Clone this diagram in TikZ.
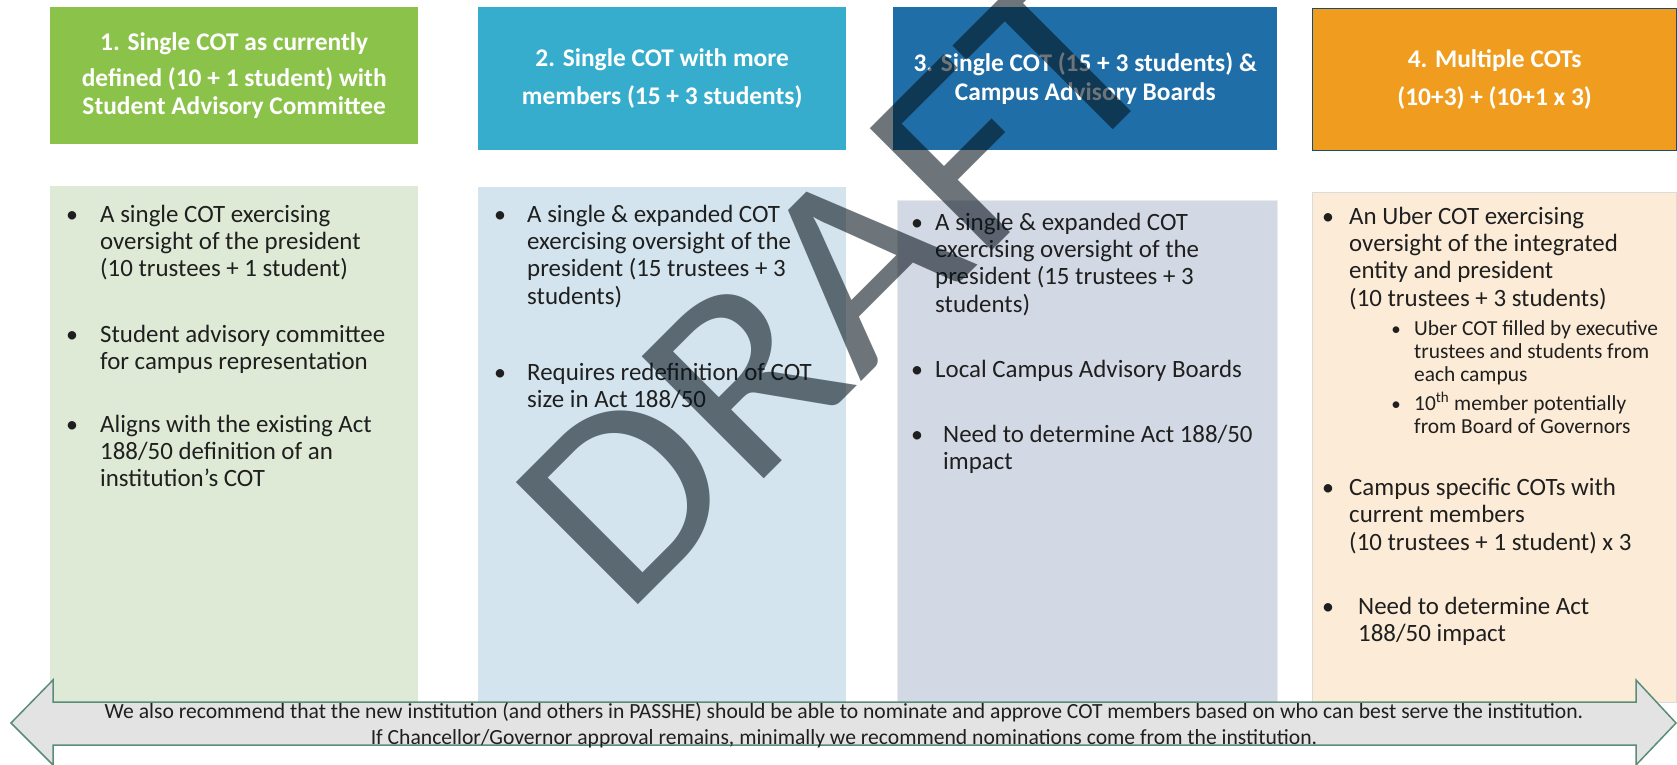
\documentclass[tikz,border=0pt]{standalone}
\usepackage{fontspec}
\setmainfont{Carlito}
\newfontfamily\wmkfont[FakeStretch=1.074]{Carlito}
\usetikzlibrary{positioning,calc}
\definecolor{cOne}  {HTML}{8BC34A}
\definecolor{cTwo}  {HTML}{37ADCE}
\definecolor{cThree}{HTML}{1F6EA8}
\definecolor{cFour} {HTML}{F09D1F}
\definecolor{pOne}  {HTML}{DEEAD5}
\definecolor{pTwo}  {HTML}{D3E4EE}
\definecolor{pThree}{HTML}{D3D9E4}
\definecolor{pFour} {HTML}{FCEBD6}
\definecolor{cTxt}  {HTML}{1F1F1F}
\definecolor{cArw}  {HTML}{5A8C78}
\definecolor{cArwF} {HTML}{E3E3E3}
\definecolor{cWmk}  {HTML}{05111A}
% first line of a block sits on the node's base
\newcommand\lnsL[1]{\begin{tabular}[t]{@{}l@{}}#1\end{tabular}}
\newcommand\lnsC[1]{\begin{tabular}[t]{@{}c@{}}#1\end{tabular}}
\tikzset{
  hdr/.style ={anchor=north west,align=center,text=white,inner sep=0pt,
               minimum height=143bp,
               font=\fontsize{25.5}{28}\selectfont\bfseries},
  pnl/.style ={anchor=north west,inner sep=0pt,minimum height=516bp},
  itm/.style ={anchor=base west,inner sep=0pt,text=cTxt,
               font=\fontsize{25}{27.6}\selectfont},
  sub/.style ={itm,font=\fontsize{21.5}{23.5}\selectfont},
  dot/.style ={anchor=base,inner sep=0pt,text=cTxt,
               font=\fontsize{24}{27.6}\selectfont},
  sdot/.style={dot,font=\fontsize{19}{20}\selectfont},
}

\begin{document}
\begin{tikzpicture}[x=1bp,y=1bp,
  arw/.style={draw=cArw,fill=cArwF,line width=1.5bp,line join=miter},
  msg/.style={anchor=base,inner sep=0pt,text=cTxt,
              font=\fontsize{21.7}{27}\selectfont},
  wmk/.style={text=cWmk,opacity=0.58,inner sep=0pt,
              font=\wmkfont\fontsize{270}{270}\selectfont},
]
\useasboundingbox (0,0) rectangle (1677,-765);

% ===== option panels (behind the arrow) =================================
\node[pnl,fill=pOne,  minimum width=368bp] (b1) at (50,-186)  {};
\node[pnl,fill=pTwo,  minimum width=368bp,minimum height=515bp]
  (b2) at (478,-187) {};
\node[pnl,fill=pThree,minimum width=380bp,minimum height=502bp,
      draw=black!8] (b3) at (897,-200) {};
\node[pnl,fill=pFour, minimum width=364bp,minimum height=510bp,
      draw=black!14] (b4) at (1312,-192) {};

% ===== option headers ===================================================
\node[hdr,fill=cOne,minimum width=368bp,minimum height=137bp] (h1) at (50,-7)
  {1. Single COT as currently\\[8pt]
   defined (10 + 1 student) with\\[1pt]Student Advisory Committee};
\node[hdr,fill=cTwo,minimum width=368bp] (h2) at (478,-7)
  {2. Single COT with more\\[10pt]members (15 + 3 students)};
\node[hdr,fill=cThree,minimum width=384bp] (h3) at (893,-7)
  {3. Single COT (15 + 3 students) \&\\[1pt]Campus Advisory Boards};
\node[hdr,fill=cFour,draw=cThree!70!black,line width=1.2bp,
      minimum width=364bp,minimum height=142bp] (h4) at (1312,-8)
  {4. Multiple COTs\\[10pt](10+3) + (10+1 x 3)};

% ===== bullets ==========================================================
\foreach [count=\i] \bx/\by in {72/222,72/342,72/432,500/222,500/380,
    917/230,917/377,917/442,1328/224,1328/495,1328/614}{%
  \node[dot] (dot\i) at (\bx,-\by) {\textbullet};
}
\foreach [count=\i] \by in {335,410}{%
  \node[sdot] (sdot\i) at (1396,-\by) {\textbullet};
}

% ----- option 1
\node[itm] (c1a) at (100,-222)
  {\lnsL{A single COT exercising\\oversight of the president\\
   (10 trustees + 1 student)}};
\node[itm] (c1b) at (100,-342)
  {\lnsL{Student advisory committee\\for campus representation}};
\node[itm] (c1c) at (100,-432)
  {\lnsL{Aligns with the existing Act\\188/50 definition of an\\
   institution’s COT}};

% ----- option 2
\node[itm] (c2a) at (527,-222)
  {\lnsL{A single \& expanded COT\\exercising oversight of the\\
   president (15 trustees + 3\\students)}};
\node[itm] (c2b) at (527,-380)
  {\lnsL{Requires redefinition of COT\\size in Act 188/50}};

% ----- option 3
\node[itm] (c3a) at (935,-230)
  {\lnsL{A single \& expanded COT\\exercising oversight of the\\
   president (15 trustees + 3\\students)}};
\node[itm] (c3b) at (935,-377) {Local Campus Advisory Boards};
\node[itm] (c3c) at (943,-442) {\lnsL{Need to determine Act 188/50\\impact}};

% ----- option 4
\node[itm] (c4a) at (1349,-224)
  {\lnsL{An Uber COT exercising\\oversight of the integrated\\
   entity and president\\(10 trustees + 3 students)}};
\node[sub] (s4a) at (1414,-335)
  {\lnsL{Uber COT filled by executive\\trustees and students from\\
   each campus}};
\node[sub] (s4b) at (1414,-410)
  {\lnsL{10\textsuperscript{th} member potentially\\from Board of Governors}};
\node[itm] (c4b) at (1349,-495)
  {\lnsL{Campus specific COTs with\\current members\\
   (10 trustees + 1 student) x 3}};
\node[itm] (c4c) at (1358,-614) {\lnsL{Need to determine Act\\188/50 impact}};

% ===== recommendation arrow =============================================
\draw[arw] (11,-723) -- (53,-680) -- (53,-702) -- (1636,-702) -- (1636,-680)
  -- (1676,-723) -- (1636,-765) -- (1636,-745) -- (53,-745) -- (53,-765)
  -- cycle;
\node[msg] (note) at (844,-718)
  {\lnsC{We also recommend that the new institution (and others in PASSHE)
   should be able to nominate and approve COT members based on who can best
   serve the institution.\\
   If Chancellor/Governor approval remains, minimally we recommend
   nominations come from the institution.}};

% ===== watermark ========================================================
\node[wmk,rotate=45,anchor=base west] (draft) at (624,-619) {DRAFT};
\end{tikzpicture}
\end{document}
